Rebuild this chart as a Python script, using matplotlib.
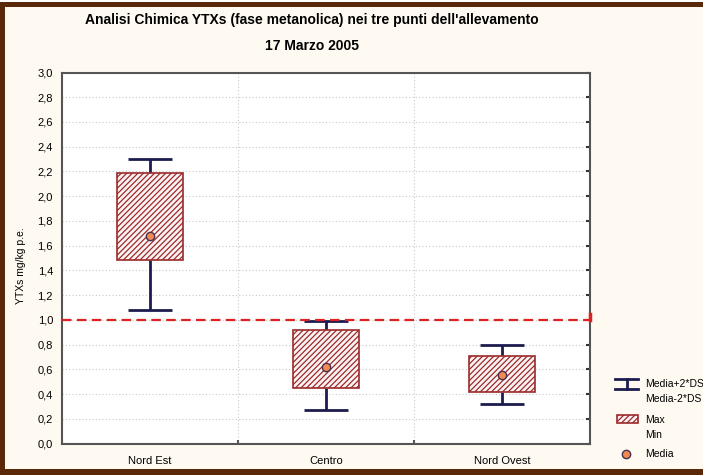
import matplotlib
matplotlib.use("Agg")
import matplotlib.pyplot as plt
from matplotlib.patches import Rectangle
from matplotlib.lines import Line2D

plt.rcParams['font.family'] = ['Liberation Sans', 'DejaVu Sans']

categories = ["Nord Est", "Centro", "Nord Ovest"]
box_max = [2.19, 0.92, 0.71]
box_min = [1.48, 0.45, 0.42]
sd_plus = [2.30, 0.99, 0.80]
sd_minus = [1.08, 0.27, 0.32]
means = [1.68, 0.62, 0.55]
threshold = 1.0
yticks = [0.0, 0.2, 0.4, 0.6, 0.8, 1.0, 1.2, 1.4, 1.6, 1.8, 2.0, 2.2, 2.4, 2.6, 2.8, 3.0]
ytick_labels = [f"{v:.1f}".replace(".", ",") for v in yticks]

W, H = 703, 475
bg = '#fffaf1'
fig = plt.figure(figsize=(W/100, H/100), dpi=100, facecolor=bg)

def fx(px): return px / W
def fy(py): return 1 - py / H

ax = fig.add_axes([fx(62), fy(443.5), fx(590) - fx(62), fy(72.5) - fy(443.5)])
ax.set_facecolor('white')
ax.set_xlim(-0.5, 2.5)
ax.set_ylim(0, 3.0)

# grid
for v in yticks[1:-1]:
    ax.axhline(v, color='#c8c8c8', lw=0.8, ls=(0, (1, 2)), zorder=0)
for v in [0.5, 1.5]:
    ax.axvline(v, color='#c8c8c8', lw=0.8, ls=(0, (1, 2)), zorder=0)

box_w = 0.375
cap_w = 0.255
hcol = '#9b2a2a'
navy = '#1c1c50'
plt.rcParams['hatch.linewidth'] = 0.9
plt.rcParams['hatch.color'] = '#b04545'
for i in range(len(categories)):
    ax.plot([i, i], [sd_minus[i], box_min[i]], color=navy, lw=2, zorder=2, solid_capstyle='butt')
    ax.plot([i, i], [box_max[i], sd_plus[i]], color=navy, lw=2, zorder=2, solid_capstyle='butt')
    ax.plot([i - cap_w/2, i + cap_w/2], [sd_plus[i]]*2, color=navy, lw=2, zorder=2, solid_capstyle='butt')
    ax.plot([i - cap_w/2, i + cap_w/2], [sd_minus[i]]*2, color=navy, lw=2, zorder=2, solid_capstyle='butt')
    r = Rectangle((i - box_w/2, box_min[i]), box_w, box_max[i] - box_min[i],
                  facecolor='#fbf3f3', edgecolor=hcol, hatch='//////', lw=1.2, zorder=3)
    ax.add_patch(r)
    ax.plot(i, means[i], 'o', ms=6, mfc='#f08a55', mec='#4a3050', mew=1.0, zorder=5)

ax.axhline(threshold, color='#dd2222', lw=1.6, dashes=(4.3, 2.4), zorder=4)
ax.plot([2.5, 2.5], [threshold, threshold + 0.05], color='#dd2222', lw=2.5, zorder=6, clip_on=False)

for s in ax.spines.values():
    s.set_color('#555555')
    s.set_linewidth(1.5)

ax.set_yticks(yticks)
ax.set_yticklabels(ytick_labels, fontsize=8)
ax.tick_params(axis='y', left=False, right=True, direction='in', length=3, width=1.5, color='#333333', pad=6.5)
ax.set_xticks(range(len(categories)))
ax.set_xticklabels(categories, fontsize=8)
ax.tick_params(axis='x', bottom=False, pad=5.5)
ax.set_xticks([0.5, 1.5], minor=True)
ax.tick_params(axis='x', which='minor', bottom=True, direction='in', length=3, width=1.5, color='#555555')

fig.text(fx(21), fy(266), 'YTXs mg/kg p.e.', rotation=90, fontsize=7.5, ha='center', va='center')

fig.text(fx(312), fy(20), "Analisi Chimica YTXs (fase metanolica) nei tre punti dell'allevamento",
         fontsize=10, fontweight='bold', ha='center', va='center')
fig.text(fx(312), fy(46), "17 Marzo 2005", fontsize=10, fontweight='bold', ha='center', va='center')

# legend
fig.add_artist(Line2D([fx(615), fx(638)], [fy(379), fy(379)], color=navy, lw=2))
fig.add_artist(Line2D([fx(615), fx(638)], [fy(389), fy(389)], color=navy, lw=2))
fig.add_artist(Line2D([fx(626.5), fx(626.5)], [fy(379), fy(389)], color=navy, lw=2))
fig.text(fx(645), fy(384), 'Media+2*DS', fontsize=7.5, va='center')
fig.text(fx(645), fy(399), 'Media-2*DS', fontsize=7.5, va='center')
fig.add_artist(Rectangle((fx(617), fy(423)), fx(638) - fx(617), fy(415) - fy(423),
                         transform=fig.transFigure, facecolor='#fbf3f3', edgecolor=hcol, hatch='//////', lw=1.2))
fig.text(fx(645), fy(420), 'Max', fontsize=7.5, va='center')
fig.text(fx(645), fy(435), 'Min', fontsize=7.5, va='center')
fig.add_artist(Line2D([fx(626)], [fy(454)], marker='o', ms=6, mfc='#f08a55', mec='#4a3050', mew=1.0, ls='none'))
fig.text(fx(645), fy(454), 'Media', fontsize=7.5, va='center')

# brown frame
brown = '#5a2a08'
fig.add_artist(Rectangle((0, 0), fx(5), 1, transform=fig.transFigure, facecolor=brown, edgecolor='none'))
fig.add_artist(Rectangle((0, fy(7)), 1, fy(2) - fy(7), transform=fig.transFigure, facecolor=brown, edgecolor='none'))
fig.add_artist(Rectangle((0, 0), 1, fy(469), transform=fig.transFigure, facecolor=brown, edgecolor='none'))
fig.add_artist(Rectangle((0, fy(2)), 1, 1 - fy(2), transform=fig.transFigure, facecolor='white', edgecolor='none'))

fig.savefig('out.png', dpi=100, facecolor=bg)
